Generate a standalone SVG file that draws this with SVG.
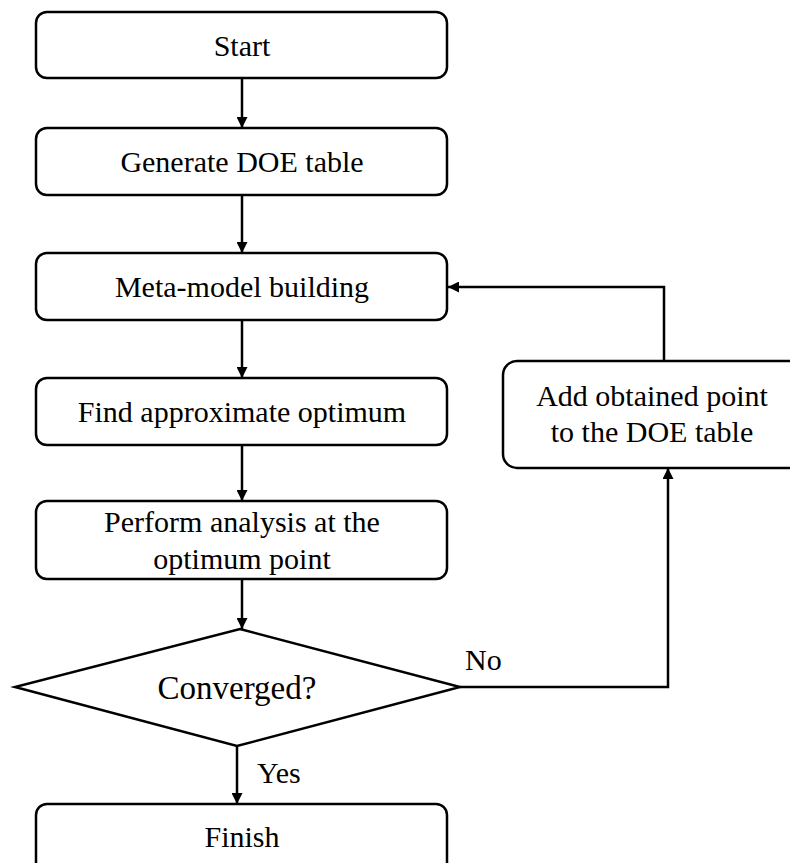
<svg xmlns="http://www.w3.org/2000/svg" width="790" height="863" viewBox="0 0 790 863">
<style>
.box{fill:#fff;stroke:#000;stroke-width:2.5}
.t{font-family:"Liberation Serif",serif;font-size:30px;fill:#000;text-anchor:middle}
.lab{font-family:"Liberation Serif",serif;font-size:30px;fill:#000}
.big{font-size:33px}
.c{fill:none;stroke:#000;stroke-width:2.5}
</style>
<defs>
<marker id="ah" viewBox="0 0 10 10" refX="10" refY="5" markerWidth="11" markerHeight="11" markerUnits="userSpaceOnUse" orient="auto">
<path d="M0,0 L10,5 L0,10 z" fill="#000"/>
</marker>
</defs>
<rect width="790" height="863" fill="#fff"/>
<g id="connectors">
<line class="c" x1="242" y1="78" x2="242" y2="128" marker-end="url(#ah)"/>
<line class="c" x1="242" y1="195" x2="242" y2="253" marker-end="url(#ah)"/>
<line class="c" x1="242" y1="320" x2="242" y2="378" marker-end="url(#ah)"/>
<line class="c" x1="242" y1="445" x2="242" y2="501" marker-end="url(#ah)"/>
<line class="c" x1="242" y1="579" x2="242" y2="629" marker-end="url(#ah)"/>
<line class="c" x1="237" y1="746" x2="237" y2="804" marker-end="url(#ah)"/>
<polyline class="c" points="460,687 668,687 668,468" marker-end="url(#ah)"/>
<polyline class="c" points="664,361 664,287 448,287" marker-end="url(#ah)"/>
<text class="lab" x="257" y="783">Yes</text>
<text class="lab" x="465" y="670">No</text>
</g>
<g id="start">
<rect class="box" x="36" y="12" width="411" height="66" rx="11"/>
<text class="t" x="242" y="56">Start</text>
</g>
<g id="generate">
<rect class="box" x="36" y="128" width="411" height="67" rx="11"/>
<text class="t" x="242" y="172">Generate DOE table</text>
</g>
<g id="metamodel">
<rect class="box" x="36" y="253" width="411" height="67" rx="11"/>
<text class="t" x="242" y="297">Meta-model building</text>
</g>
<g id="findopt">
<rect class="box" x="36" y="378" width="411" height="67" rx="11"/>
<text class="t" x="242" y="422">Find approximate optimum</text>
</g>
<g id="perform">
<rect class="box" x="36" y="501" width="411" height="78" rx="11"/>
<text class="t" x="242" y="532">Perform analysis at the</text>
<text class="t" x="242" y="569">optimum point</text>
</g>
<g id="converged">
<polygon class="box" points="240,629 460,687 237,746 15,687"/>
<text class="t big" x="237" y="699">Converged?</text>
</g>
<g id="finish">
<rect class="box" x="36" y="804" width="411" height="70" rx="11"/>
<text class="t" x="242" y="847">Finish</text>
</g>
<g id="adddoe">
<rect class="box" x="503" y="361" width="300" height="107" rx="14"/>
<text class="t" x="652" y="406">Add obtained point</text>
<text class="t" x="652" y="442">to the DOE table</text>
</g>
</svg>
